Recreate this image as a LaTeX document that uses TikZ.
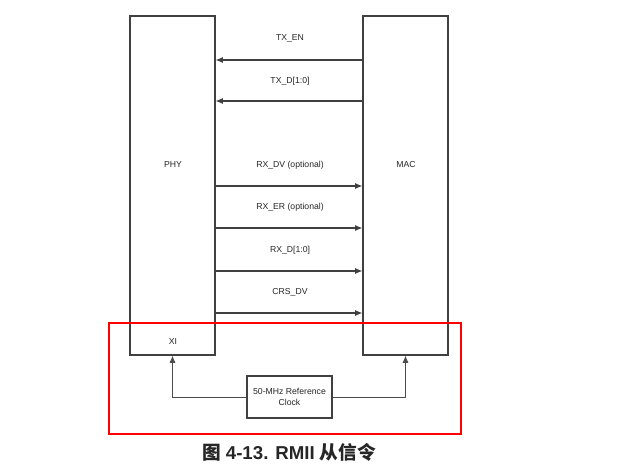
\documentclass[tikz,border=0pt]{standalone}
\usepackage{fontspec}
\setmainfont{Liberation Sans}
\newfontfamily\cjk{Noto Sans CJK SC}
\usetikzlibrary{arrows.meta}

\begin{document}
\begin{tikzpicture}[x=0.75pt, y=-0.75pt, >={Latex[length=5.5pt,width=4.5pt]},
    box/.style={draw=black!75, line width=0.8pt, inner sep=0pt},
    sig/.style={->, draw=black!75, line width=0.8pt},
    clkline/.style={->, draw=black!70, line width=0.6pt},
    lbl/.style={font=\fontsize{6.5}{7.5}\selectfont, text=black!85, inner sep=1pt}]

  \useasboundingbox (0,0) rectangle (640,474);

  % ---------- PHY / MAC blocks ----------
  \node[box, minimum width=63.75pt, minimum height=254.25pt] (phy) at (172.5,185.5) {};
  \node[box, minimum width=63.75pt, minimum height=254.25pt] (mac) at (405.5,185.5) {};
  \node[lbl] (phylbl) at (173,165) {PHY};
  \node[lbl] (maclbl) at (406,165) {MAC};
  \node[lbl] (xi) at (173,342) {XI};

  % ---------- TX: MAC -> PHY ----------
  \coordinate (txen) at (0,60);
  \coordinate (txd)  at (0,101);
  \node[lbl] (txenlbl) at (290,38) {TX\_EN};
  \node[lbl] (txdlbl)  at (290,81) {TX\_D[1:0]};
  \draw[sig] (mac.west |- txen) -- (phy.east |- txen);
  \draw[sig] (mac.west |- txd) -- (phy.east |- txd);

  % ---------- RX: PHY -> MAC ----------
  \foreach \y/\t [count=\i] in {186/{RX\_DV (optional)}, 228/{RX\_ER (optional)},
                                271/{RX\_D[1:0]}, 313/{CRS\_DV}} {
    \coordinate (rx\i) at (0,\y);
    \node[lbl] (rxlbl\i) at (290,\y-21) {\t};
    \draw[sig] (phy.east |- rx\i) -- (mac.west |- rx\i);
  }

  % ---------- Reference clock ----------
  \node[box, minimum width=63.75pt, minimum height=31.5pt, align=center,
        font=\fontsize{6.5}{8}\selectfont, text=black!85] (clk) at (289.5,397)
    {50-MHz Reference\\Clock};
  \draw[clkline] (clk.west) -| (phy.south);
  \draw[clkline] (clk.east) -| (mac.south);

  % ---------- Highlight ----------
  \draw[red, line width=1.5pt] (109,323) rectangle (461,434);

  % ---------- Caption ----------
  \node[font=\fontsize{14}{16}\selectfont\bfseries, text=black!85] (cap) at (289,452)
    {{\cjk 图} 4-13. RMII {\cjk 从信令}};

\end{tikzpicture}
\end{document}
